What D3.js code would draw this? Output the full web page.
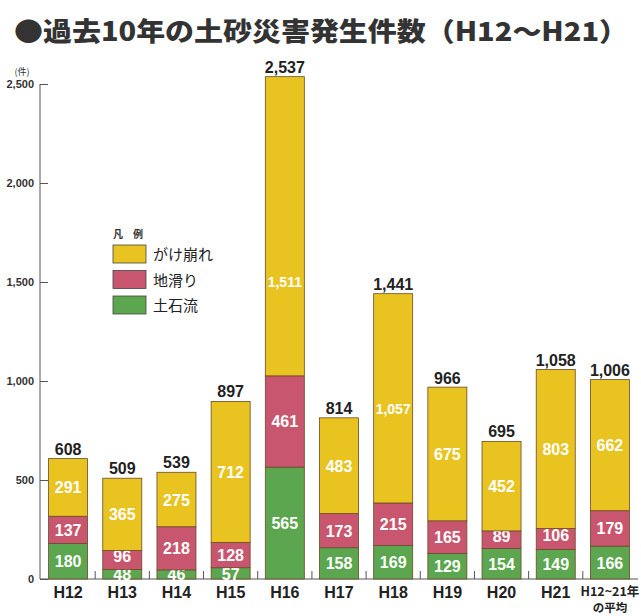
<!DOCTYPE html>
<html><head><meta charset="utf-8">
<script src="https://cdn.jsdelivr.net/npm/d3@7"></script>
<style>body{margin:0;background:#fff}svg{display:block}</style>
</head><body>
<svg id="c" width="641" height="616"></svg>
<script>
const categories = ["H12","H13","H14","H15","H16","H17","H18","H19","H20","H21","AVG"];
const debrisFlow = [180,48,46,57,565,158,169,129,154,149,166];
const landslide  = [137,96,218,128,461,173,215,165,89,106,179];
const cliffFail  = [291,365,275,712,1511,483,1057,675,452,803,662];
const totals     = [608,509,539,897,2537,814,1441,966,695,1058,1006];
const yTicks = [0,500,1000,1500,2000,2500];
const seriesNames = ["土石流","地滑り","がけ崩れ"];
const legendOrder = ["がけ崩れ","地滑り","土石流"];
const colors = {"土石流":"#5ba64e","地滑り":"#c9566f","がけ崩れ":"#e9c421"};

const svg = d3.select("#c");
const font = "'Liberation Sans','Noto Sans CJK JP',sans-serif";
const jp = "'Noto Sans CJK JP',sans-serif";

svg.append("text").attr("x",14).attr("y",41).attr("font-family",jp).attr("font-weight",900)
  .attr("font-size",26).attr("fill","#333").attr("textLength",614).attr("lengthAdjust","spacingAndGlyphs")
  .text("●過去10年の土砂災害発生件数（H12～H21）");

const y = d3.scaleLinear().domain([0,2500]).range([579,84]);
const x = d3.scaleBand().domain(categories).range([41,637]).paddingInner(0.28).paddingOuter(0.14);

const data = categories.map((c,i)=>({cat:c,"土石流":debrisFlow[i],"地滑り":landslide[i],"がけ崩れ":cliffFail[i],total:totals[i]}));
const stack = d3.stack().keys(seriesNames)(data);

// y axis
const ya = svg.append("g").attr("transform","translate(40,0)")
  .call(d3.axisRight(y).tickValues(yTicks).tickSize(8).tickFormat(d3.format(",")));
ya.select(".domain").remove();
ya.selectAll(".tick line").attr("stroke","#555").attr("stroke-width",1);
ya.selectAll(".tick text").attr("x",-6).attr("text-anchor","end").attr("font-family",font)
  .attr("font-weight","bold").attr("font-size",11).attr("fill","#333");
svg.append("line").attr("x1",40).attr("x2",40).attr("y1",y(2500)).attr("y2",y(0)).attr("stroke","#555");
svg.append("line").attr("x1",40).attr("x2",638).attr("y1",y(0)).attr("y2",y(0)).attr("stroke","#555");
svg.append("text").attr("x",22).attr("y",75).attr("text-anchor","middle").attr("font-family",jp)
  .attr("font-size",9).attr("fill","#333").text("(件)");

// category separators
const step = x.step();
categories.slice(0,-1).forEach(c=>{
  const sx = x(c)+x.bandwidth()+(step-x.bandwidth())/2;
  svg.append("line").attr("x1",sx).attr("x2",sx).attr("y1",y(0)).attr("y2",y(0)-8).attr("stroke","#555");
});

// bars
stack.forEach((layer,li)=>{
  const g = svg.append("g");
  g.selectAll("rect").data(layer).join("rect")
    .attr("x",d=>x(d.data.cat)).attr("width",x.bandwidth())
    .attr("y",d=>y(d[1])).attr("height",d=>y(d[0])-y(d[1]))
    .attr("fill",colors[layer.key]).attr("stroke","#6b4a2a").attr("stroke-width",0.8);
  g.selectAll("text").data(layer).join("text")
    .attr("x",d=>x(d.data.cat)+x.bandwidth()/2)
    .attr("y",d=>{
      const top=y(d[1]), bot=y(d[0]), h=bot-top;
      if(h<14) return bot+0.5;
      if(h<25 && li>0) return (top+bot)/2+2;
      const c=(top+bot)/2;
      return Math.max(c, bot-95)+6;
    })
    .attr("text-anchor","middle").attr("font-family",font).attr("font-weight","bold")
    .attr("font-size",d=>d.data[layer.key]>=1000?14:16).attr("fill","#fff")
    .text(d=>d3.format(",")(d.data[layer.key]));
});

// totals
svg.append("g").selectAll("text").data(data).join("text")
  .attr("x",d=>x(d.cat)+x.bandwidth()/2).attr("y",d=>y(d.total)-4)
  .attr("text-anchor","middle").attr("font-family",font).attr("font-weight","bold")
  .attr("font-size",16).attr("fill","#222").text(d=>d3.format(",")(d.total));

// category labels
categories.forEach(c=>{
  const cx = x(c)+x.bandwidth()/2;
  if(c==="AVG"){
    svg.append("text").attr("x",cx).attr("y",596).attr("text-anchor","middle").attr("font-family",jp)
      .attr("font-weight","bold").attr("font-size",12.5).attr("fill","#222").text("H12~21年");
    svg.append("text").attr("x",cx).attr("y",612).attr("text-anchor","middle").attr("font-family",jp)
      .attr("font-weight","bold").attr("font-size",11.5).attr("fill","#222").text("の平均");
  } else {
    svg.append("text").attr("x",cx).attr("y",598).attr("text-anchor","middle").attr("font-family",font)
      .attr("font-weight","bold").attr("font-size",16).attr("fill","#222").text(c);
  }
});

// legend
svg.append("text").attr("x",113).attr("y",238).attr("font-family",jp).attr("font-weight","bold")
  .attr("font-size",10).attr("fill","#333").text("凡　例");
legendOrder.forEach((k,i)=>{
  const ly = 245 + i*25.5;
  svg.append("rect").attr("x",113).attr("y",ly).attr("width",33).attr("height",18)
    .attr("fill",colors[k]).attr("stroke","#444").attr("stroke-width",0.8);
  svg.append("text").attr("x",153).attr("y",ly+15).attr("font-family",jp).attr("font-size",15)
    .attr("fill","#222").text(k);
});
</script>
</body></html>
